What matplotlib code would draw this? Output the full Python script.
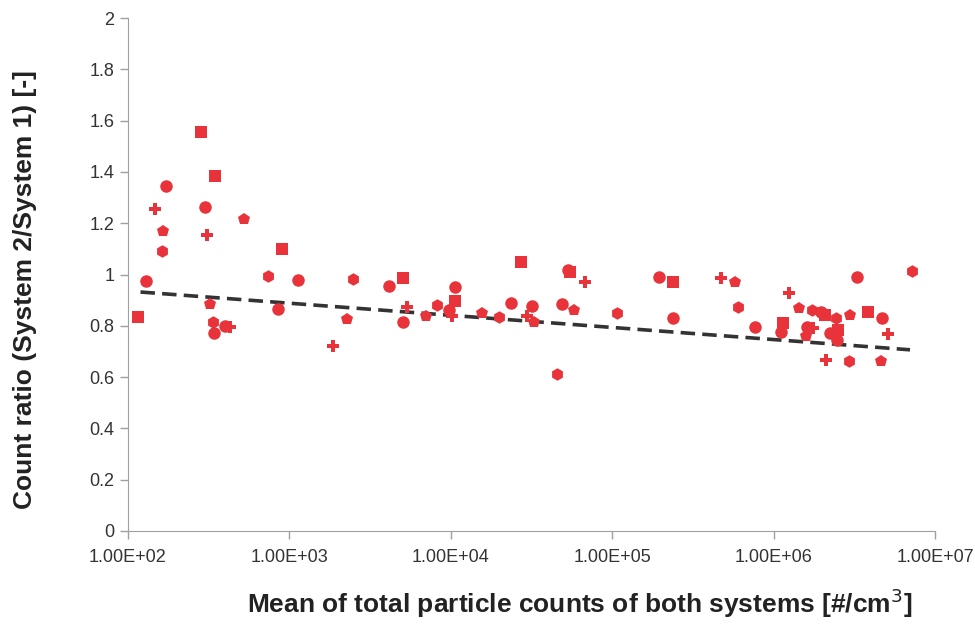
import numpy as np
import matplotlib.pyplot as plt
from matplotlib.ticker import FixedLocator, FuncFormatter

plt.rcParams['font.family'] = ['Liberation Sans', 'DejaVu Sans']

# mean total particle count [#/cm3] and count ratio system2/system1
counts = [115, 129, 147, 165, 163, 172, 283, 300, 309, 323, 337, 341, 346,
          400, 430, 524, 736, 850, 900, 1130, 1860, 2280, 2480, 4140, 5060,
          5060, 5370, 7020, 8200, 10600, 10600, 9780, 10200, 15600, 20000,
          23600, 27200, 31800, 29800, 32700, 45500, 48800, 54700, 53200,
          67800, 57900, 107000, 195000, 238000, 238000, 472000, 577000,
          601000, 767000, 1.14e6, 1.11e6, 1.24e6, 1.43e6, 1.73e6, 1.97e6,
          2.08e6, 1.61e6, 1.75e6, 1.58e6, 2.44e6, 2.24e6, 2.51e6, 2.47e6,
          2.11e6, 2.97e6, 2.93e6, 3.29e6, 3.85e6, 4.69e6, 5.11e6, 4.62e6,
          7.21e6]
ratio = [0.834, 0.975, 1.255, 1.17, 1.09, 1.345, 1.555, 1.265, 1.155, 0.885,
         0.815, 0.77, 1.385, 0.80, 0.795, 1.215, 0.995, 0.865, 1.10, 0.98,
         0.72, 0.826, 0.982, 0.955, 0.987, 0.815, 0.873, 0.84, 0.882, 0.951,
         0.897, 0.862, 0.838, 0.85, 0.834, 0.889, 1.049, 0.877, 0.838, 0.815,
         0.612, 0.885, 1.01, 1.018, 0.971, 0.862, 0.85, 0.99, 0.971, 0.830,
         0.986, 0.971, 0.873, 0.795, 0.811, 0.776, 0.928, 0.869, 0.862, 0.854,
         0.842, 0.795, 0.791, 0.76, 0.830, 0.772, 0.784, 0.745, 0.667, 0.842,
         0.663, 0.99, 0.854, 0.830, 0.768, 0.663, 1.014]

# logarithmic trend: ratio = trend_a + trend_b * log10(count)
trend_a = 1.030
trend_b = -0.0473
trend_range = [120, 7.0e6]

xticks = [1e2, 1e3, 1e4, 1e5, 1e6, 1e7]
yticks = [0, 0.2, 0.4, 0.6, 0.8, 1, 1.2, 1.4, 1.6, 1.8, 2]

red = '#E8333A'
markers = ['s', 'o', 'P', 'p', 'h', 'o']

fig = plt.figure(figsize=(9.75, 6.26), dpi=100)
ax = fig.add_axes([0.131, 0.152, 0.828, 0.819])

x = np.array(counts, dtype=float)
y = np.array(ratio)
for i in range(len(x)):
    ax.plot(x[i], y[i], linestyle='none', marker=markers[i % len(markers)],
            color=red, markersize=9, markeredgewidth=0, zorder=3)

xt = np.logspace(np.log10(trend_range[0]), np.log10(trend_range[1]), 200)
ax.plot(xt, trend_a + trend_b * np.log10(xt), color='#333333', lw=2.6,
        linestyle=(0, (4, 2)), zorder=2)

ax.set_xscale('log')
ax.set_xlim(1e2, 1e7)
ax.set_ylim(0, 2)
ax.xaxis.set_major_locator(FixedLocator(xticks))
ax.xaxis.set_minor_locator(FixedLocator([]))
ax.xaxis.set_major_formatter(FuncFormatter(lambda v, p: '%.2E' % v))
ax.set_yticks(yticks)
ax.yaxis.set_major_formatter(FuncFormatter(lambda v, p: '%g' % v))

for s in ['top', 'right']:
    ax.spines[s].set_visible(False)
for s in ['left', 'bottom']:
    ax.spines[s].set_color('#A0A0A0')
ax.tick_params(colors='#A0A0A0', labelcolor='#333333', labelsize=13,
               length=6, width=1)
ax.tick_params(axis='x', pad=7)

ax.set_xlabel('Mean of total particle counts of both systems [#/cm$^3$]',
              fontsize=19, fontweight='bold', color='#222222')
ax.set_ylabel('Count ratio (System 2/System 1) [-]', fontsize=19,
              fontweight='bold', color='#222222')
ax.xaxis.set_label_coords(0.56, -0.108)
ax.yaxis.set_label_coords(-0.113, 0.47)

fig.savefig('out.png', dpi=100)
